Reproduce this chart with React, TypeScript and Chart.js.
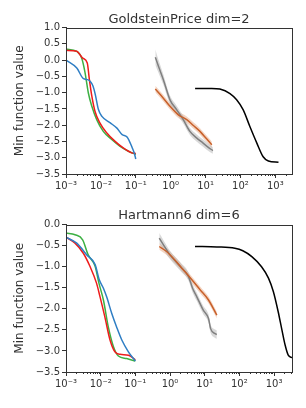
import React, { useEffect, useRef } from 'react';
import { Chart, registerables } from 'chart.js';
Chart.register(...registerables);

const xTickValues = [0.001, 0.01, 0.1, 1, 10, 100, 1000];
const xTickLabels = ['10\u207B\u00B3', '10\u207B\u00B2', '10\u207B\u00B9', '10\u2070', '10\u00B9', '10\u00B2', '10\u00B3'];

// ---- Top: GoldsteinPrice dim=2
const topTitle = 'GoldsteinPrice dim=2';
const topBlueX = [0.001, 0.00204, 0.00316, 0.00417, 0.0049, 0.00589, 0.00692, 0.00851, 0.0107, 0.0186, 0.0288, 0.0407, 0.0562, 0.0794, 0.0912, 0.1];
const topBlueY = [0, -0.245, -0.57, -0.6, -0.65, -0.79, -1.06, -1.52, -1.73, -1.93, -2.09, -2.29, -2.36, -2.7, -2.87, -3.04];
const topGreenX = [0.001, 0.00204, 0.00282, 0.00347, 0.00437, 0.0055, 0.00759, 0.0117, 0.0204, 0.0355, 0.0617, 0.1];
const topGreenY = [0.34, 0.27, 0.06, -0.35, -1.01, -1.42, -1.83, -2.19, -2.44, -2.65, -2.8, -2.9];
const topRedX = [0.001, 0.00204, 0.00302, 0.00407, 0.00468, 0.0055, 0.00676, 0.00933, 0.0148, 0.0251, 0.0437, 0.0759, 0.1];
const topRedY = [0.3, 0.27, 0.06, -0.09, -0.6, -1.11, -1.57, -1.93, -2.24, -2.49, -2.7, -2.85, -2.87];
const topGrayX = [0.363, 0.447, 0.617, 0.955, 1.48, 2.29, 3.55, 5.5, 8.51, 12.0, 16.2];
const topGrayY = [0.09, -0.19, -0.6, -1.22, -1.52, -1.83, -2.19, -2.39, -2.55, -2.68, -2.78];
const topGrayStd = [0.24, 0.2, 0.16, 0.13, 0.12, 0.12, 0.11, 0.11, 0.11, 0.11, 0.1];
const topOrangeX = [0.363, 0.617, 0.955, 1.66, 2.88, 4.47, 6.92, 10.7, 15.1];
const topOrangeY = [-0.89, -1.17, -1.42, -1.68, -1.83, -2.01, -2.19, -2.42, -2.6];
const topOrangeStd = [0.1, 0.1, 0.1, 0.1, 0.1, 0.1, 0.1, 0.1, 0.1];
const topBlackX = [5.01, 15, 25.7, 50.1, 77.6, 120, 186, 295, 447, 631, 1230];
const topBlackY = [-0.87, -0.87, -0.89, -1.03, -1.22, -1.53, -2.04, -2.55, -2.97, -3.1, -3.14];
const topYMin = -3.5;
const topYMax = 1.0;
const topXMax = 3000;

// ---- Bottom: Hartmann6 dim=6
const botTitle = 'Hartmann6 dim=6';
const botBlueX = [0.001, 0.00204, 0.00398, 0.00692, 0.00912, 0.012, 0.0148, 0.0209, 0.0288, 0.0407, 0.0631, 0.1];
const botBlueY = [-0.3, -0.44, -0.72, -0.95, -1.31, -1.51, -1.71, -2.11, -2.43, -2.74, -3.02, -3.24];
const botGreenX = [0.001, 0.00182, 0.00302, 0.00437, 0.00692, 0.00891, 0.012, 0.0166, 0.0234, 0.0324, 0.0562, 0.1];
const botGreenY = [-0.2, -0.24, -0.36, -0.72, -0.99, -1.39, -1.79, -2.43, -2.9, -3.12, -3.18, -3.24];
const botRedX = [0.001, 0.00182, 0.00316, 0.0049, 0.00759, 0.00955, 0.0132, 0.0186, 0.0257, 0.0363, 0.0631, 0.1];
const botRedY = [-0.3, -0.44, -0.68, -0.99, -1.39, -1.71, -2.19, -2.74, -3.02, -3.08, -3.1, -3.21];
const botGrayX = [0.49, 0.646, 1, 1.95, 3.39, 4.47, 5.89, 9.12, 12.9, 14.8, 20, 22.4];
const botGrayY = [-0.32, -0.48, -0.72, -0.99, -1.23, -1.51, -1.71, -2.03, -2.23, -2.47, -2.59, -2.61];
const botGrayStd = [0.12, 0.11, 0.1, 0.1, 0.1, 0.1, 0.1, 0.1, 0.1, 0.1, 0.1, 0.1];
const botOrangeX = [0.49, 0.794, 1.38, 2.4, 4.27, 7.41, 12.9, 22.4];
const botOrangeY = [-0.52, -0.64, -0.84, -1.07, -1.31, -1.55, -1.79, -2.15];
const botOrangeStd = [0.08, 0.08, 0.08, 0.08, 0.08, 0.08, 0.08, 0.08];
const botBlackX = [5.25, 22.4, 74.1, 126, 229, 437, 692, 955, 1318, 1660, 2089, 2570, 3311];
const botBlackY = [-0.52, -0.53, -0.56, -0.62, -0.76, -1.0, -1.27, -1.59, -2.07, -2.47, -2.86, -3.1, -3.16];
const botYMin = -3.5;
const botYMax = 0.0;
const botXMax = 3300;

const minorMultipliers = [2, 3, 4, 5, 6, 7, 8, 9];
const AXIS = '#333333';
const TEXT = '#333333';

const pts = (xs: number[], ys: number[], off: number[] | null = null, sign = 0) =>
  xs.map((x, i) => ({ x, y: ys[i] + (off ? sign * off[i] : 0) }));

const line = (label: string, xs: number[], ys: number[], color: string) => ({
  label,
  data: pts(xs, ys),
  borderColor: color,
  borderWidth: 1.5,
  pointRadius: 0,
  cubicInterpolationMode: 'monotone',
  fill: false,
});

const bandPair = (xs: number[], ys: number[], sd: number[], color: string) => [
  { label: 'u', data: pts(xs, ys, sd, 1), borderWidth: 0, borderColor: 'transparent', pointRadius: 0, fill: false, cubicInterpolationMode: 'monotone' },
  { label: 'l', data: pts(xs, ys, sd, -1), borderWidth: 0, borderColor: 'transparent', pointRadius: 0, fill: '-1', backgroundColor: color, cubicInterpolationMode: 'monotone' },
];

const framePlugin = {
  id: 'frameAndMinor',
  afterDraw(chart: any) {
    const { ctx, chartArea } = chart;
    const xs = chart.scales.x;
    ctx.save();
    ctx.strokeStyle = AXIS;
    ctx.lineWidth = 1;
    ctx.strokeRect(Math.round(chartArea.left) + 0.5, Math.round(chartArea.top) + 0.5,
      Math.round(chartArea.right - chartArea.left), Math.round(chartArea.bottom - chartArea.top));
    ctx.beginPath();
    for (let i = 0; i < xTickValues.length; i++) {
      for (const m of minorMultipliers) {
        const v = xTickValues[i] * m;
        if (v > xs.min && v < xs.max) {
          const px = Math.round(xs.getPixelForValue(v)) + 0.5;
          ctx.moveTo(px, chartArea.bottom);
          ctx.lineTo(px, chartArea.bottom + 2);
        }
      }
    }
    ctx.stroke();
    const t = chart.options.plugins.title;
    ctx.fillStyle = TEXT;
    ctx.font = '13px "DejaVu Sans"';
    ctx.textAlign = 'center';
    ctx.textBaseline = 'middle';
    ctx.fillText(t.text, (chartArea.left + chartArea.right) / 2, chartArea.top - chart.$titleOffset);
    ctx.restore();
  },
};

function makeConfig(opts: any) {
  const datasets: any[] = [
    line('blue', opts.blueX, opts.blueY, '#2f7ec4'),
    line('red', opts.redX, opts.redY, '#ee1c1c'),
    line('green', opts.greenX, opts.greenY, '#3cb043'),
    line('orange', opts.orangeX, opts.orangeY, '#c8602a'),
    line('gray', opts.grayX, opts.grayY, '#808080'),
    line('black', opts.blackX, opts.blackY, '#000000'),
    ...bandPair(opts.grayX, opts.grayY, opts.graySd, 'rgba(170,170,170,0.45)'),
    ...bandPair(opts.orangeX, opts.orangeY, opts.orangeSd, 'rgba(225,150,105,0.4)'),
  ];
  return {
    type: 'line',
    data: { datasets },
    plugins: [framePlugin],
    options: {
      animation: false,
      responsive: false,
      layout: { padding: { left: 9, right: 14, top: 0, bottom: 0 } },
      plugins: {
        legend: { display: false },
        tooltip: { enabled: false },
        title: {
          display: true,
          text: opts.title,
          color: 'rgba(0,0,0,0)',
          font: { family: 'DejaVu Sans', size: 13, weight: 'normal' },
          padding: { top: opts.titlePad, bottom: 0 },
        },
      },
      scales: {
        x: {
          type: 'logarithmic',
          min: 0.001,
          max: opts.xMax,
          afterBuildTicks: (s: any) => { s.ticks = xTickValues.map((v) => ({ value: v })); },
          afterFit: (s: any) => { s.height = opts.xHeight; },
          ticks: {
            autoSkip: false,
            maxRotation: 0,
            padding: 2,
            color: TEXT,
            font: { family: 'DejaVu Sans', size: 10 },
            callback: (_v: any, i: number) => xTickLabels[i],
          },
          grid: { display: true, drawOnChartArea: false, drawTicks: true, tickLength: 4, tickColor: AXIS },
          border: { display: true, color: AXIS },
        },
        y: {
          min: opts.yMin,
          max: opts.yMax,
          afterFit: (s: any) => { s.width = 57; },
          ticks: {
            stepSize: 0.5,
            padding: 2,
            color: TEXT,
            font: { family: 'DejaVu Sans', size: 10 },
            callback: (v: any) => Number(v).toFixed(1).replace('-', '\u2212'),
          },
          title: {
            display: true,
            text: 'Min function value',
            color: TEXT,
            font: { family: 'DejaVu Sans', size: 12 },
            padding: { top: 4, bottom: 0 },
          },
          grid: { display: true, drawOnChartArea: false, drawTicks: true, tickLength: 4, tickColor: AXIS },
          border: { display: true, color: AXIS },
        },
      },
    },
  };
}

function ChartBox({ opts }: { opts: any }) {
  const ref = useRef<HTMLCanvasElement | null>(null);
  useEffect(() => {
    if (!ref.current) return;
    const c: any = new Chart(ref.current, makeConfig(opts) as any);
    c.$titleOffset = opts.titleOffset;
    c.draw();
    return () => c.destroy();
  }, []);
  return <canvas ref={ref} width={306} height={204} style={{ display: 'block', width: 306, height: 204 }} />;
}

const topOpts = {
  title: topTitle, titlePad: 12, titleOffset: 8, xHeight: 30, xMax: topXMax, yMin: topYMin, yMax: topYMax,
  blueX: topBlueX, blueY: topBlueY, greenX: topGreenX, greenY: topGreenY, redX: topRedX, redY: topRedY,
  grayX: topGrayX, grayY: topGrayY, graySd: topGrayStd, orangeX: topOrangeX, orangeY: topOrangeY, orangeSd: topOrangeStd,
  blackX: topBlackX, blackY: topBlackY,
};
const botOpts = {
  title: botTitle, titlePad: 5, titleOffset: 9, xHeight: 36, xMax: botXMax, yMin: botYMin, yMax: botYMax,
  blueX: botBlueX, blueY: botBlueY, greenX: botGreenX, greenY: botGreenY, redX: botRedX, redY: botRedY,
  grayX: botGrayX, grayY: botGrayY, graySd: botGrayStd, orangeX: botOrangeX, orangeY: botOrangeY, orangeSd: botOrangeStd,
  blackX: botBlackX, blackY: botBlackY,
};

export default function App() {
  return (
    <div style={{ position: 'absolute', left: 0, top: 0, width: 306, height: 408, background: '#fff' }}>
      <ChartBox opts={topOpts} />
      <ChartBox opts={botOpts} />
    </div>
  );
}
